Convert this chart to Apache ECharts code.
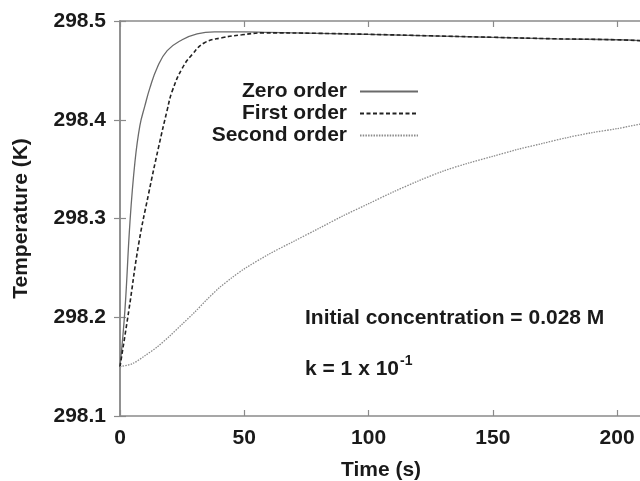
<!DOCTYPE html>
<html>
<head>
<meta charset="utf-8">
<script src="https://cdn.jsdelivr.net/npm/echarts@6/dist/echarts.min.js"></script>
<style>html,body{margin:0;padding:0;background:#fff}#c{width:640px;height:481px}</style>
</head>
<body>
<div id="c"></div>
<script>
var seriesNames = ['Zero order', 'First order', 'Second order'];
var xTicks = [0, 50, 100, 150, 200];
var yTicks = [298.1, 298.2, 298.3, 298.4, 298.5];

var tZero = [0, 2, 4, 6, 8, 10, 12, 15, 19, 25, 31, 38, 50, 60, 80, 100, 125, 150, 175, 200, 210];
var vZero = [298.150, 298.208, 298.296, 298.357, 298.394, 298.414, 298.432, 298.453, 298.470, 298.481, 298.487, 298.489, 298.489, 298.4885, 298.4875, 298.4865, 298.485, 298.4835, 298.482, 298.481, 298.480];

var tFirst = [0, 3.5, 7.5, 11.5, 15.5, 19, 21, 25, 29, 34, 41, 49, 58, 80, 100, 125, 150, 175, 200, 210];
var vFirst = [298.150, 298.206, 298.274, 298.325, 298.372, 298.410, 298.429, 298.452, 298.466, 298.478, 298.483, 298.486, 298.488, 298.4875, 298.4865, 298.485, 298.4835, 298.482, 298.481, 298.480];

var tSecond = [0, 5, 10, 15, 20, 25, 30, 35, 40, 45, 50, 60, 70, 80, 90, 100, 110, 120, 130, 140, 150, 160, 170, 180, 190, 200, 210];
var vSecond = [298.150, 298.153, 298.161, 298.170, 298.181, 298.193, 298.205, 298.218, 298.230, 298.240, 298.249, 298.264, 298.277, 298.290, 298.303, 298.315, 298.327, 298.338, 298.348, 298.356, 298.363, 298.370, 298.376, 298.382, 298.387, 298.391, 298.396];

function pairs(t, v) { return t.map(function (x, i) { return [x, v[i]]; }); }

var FONT = 'Liberation Sans';
var FS = 21;
var axisColor = '#8a8a8a';
var textColor = '#1a1a1a';

var chart = echarts.init(document.getElementById('c'), null, {renderer: 'canvas'});
chart.setOption({
  backgroundColor: '#fff',
  animation: false,
  grid: {left: 120, top: 21, width: 522, height: 395, outerBoundsMode: 'none', containLabel: false},
  legend: {
    orient: 'vertical',
    align: 'right',
    right: 216,
    top: 76,
    itemWidth: 58,
    itemHeight: 20,
    itemGap: 1,
    itemStyle: {opacity: 0},
    textStyle: {fontFamily: FONT, fontWeight: 'bold', fontSize: FS, color: textColor, lineHeight: 20, padding: [0, 8, 0, 0]},
    data: seriesNames
  },
  xAxis: [{
    type: 'value', min: 0, max: 210, interval: 50,
    name: 'Time (s)', nameLocation: 'middle', nameGap: 44,
    nameTextStyle: {fontFamily: FONT, fontWeight: 'bold', fontSize: FS, color: textColor},
    axisLine: {lineStyle: {color: axisColor, width: 1.5}},
    axisTick: {inside: true, length: 6, lineStyle: {color: axisColor, width: 1.2}},
    axisLabel: {fontFamily: FONT, fontWeight: 'bold', fontSize: FS, color: textColor, margin: 12,
      showMaxLabel: false,
      formatter: function (v) { return xTicks.indexOf(v) >= 0 ? String(v) : ''; }},
    splitLine: {show: false}
  }, {
    type: 'value', min: 0, max: 210, interval: 50, position: 'top',
    axisLine: {show: true, lineStyle: {color: axisColor, width: 1.5}},
    axisTick: {show: true, inside: true, length: 6, lineStyle: {color: axisColor, width: 1.2}},
    axisLabel: {show: false},
    splitLine: {show: false}
  }],
  yAxis: [{
    type: 'value', min: 298.1, max: 298.5, interval: 0.1,
    name: 'Temperature (K)', nameLocation: 'middle', nameGap: 88,
    nameTextStyle: {fontFamily: FONT, fontWeight: 'bold', fontSize: FS, color: textColor},
    axisLine: {show: true, lineStyle: {color: axisColor, width: 1.5}},
    axisTick: {show: true, inside: true, length: 6, lineStyle: {color: axisColor, width: 1.2}},
    axisLabel: {fontFamily: FONT, fontWeight: 'bold', fontSize: FS, color: textColor, margin: 14,
      formatter: function (v) { return v.toFixed(1); }},
    splitLine: {show: false}
  }, {
    type: 'value', min: 298.1, max: 298.5, interval: 0.1, position: 'right',
    axisLine: {show: true, lineStyle: {color: axisColor, width: 1.5}},
    axisTick: {show: true, inside: true, length: 6, lineStyle: {color: axisColor, width: 1.2}},
    axisLabel: {show: false},
    splitLine: {show: false}
  }],
  graphic: [{
    type: 'text', left: 305, top: 308,
    style: {text: 'Initial concentration = 0.028 M', font: 'bold 21px "Liberation Sans"', fill: textColor}
  }, {
    type: 'text', left: 305, top: 354,
    style: {
      text: '{n|k = 1 x 10}{s|-1}',
      rich: {
        n: {font: 'bold 21px "Liberation Sans"', fill: textColor, verticalAlign: 'bottom'},
        s: {font: 'bold 14px "Liberation Sans"', fill: textColor, verticalAlign: 'top', padding: [0, 0, 12, 1]}
      }
    }
  }],
  series: [{
    name: seriesNames[0], type: 'line', symbol: 'none', smooth: 0.45,
    data: pairs(tZero, vZero),
    lineStyle: {color: '#6a6a6a', width: 1.3, type: 'solid'},
    itemStyle: {color: '#6a6a6a'}
  }, {
    name: seriesNames[1], type: 'line', symbol: 'none', smooth: 0.45,
    data: pairs(tFirst, vFirst),
    lineStyle: {color: '#222', width: 1.6, type: [4, 2.5]},
    itemStyle: {color: '#222'}
  }, {
    name: seriesNames[2], type: 'line', symbol: 'none', smooth: 0.3,
    data: pairs(tSecond, vSecond),
    lineStyle: {color: '#8c8c8c', width: 1.3, type: [1.5, 1.2]},
    itemStyle: {color: '#8c8c8c'}
  }]
});
</script>
</body>
</html>
